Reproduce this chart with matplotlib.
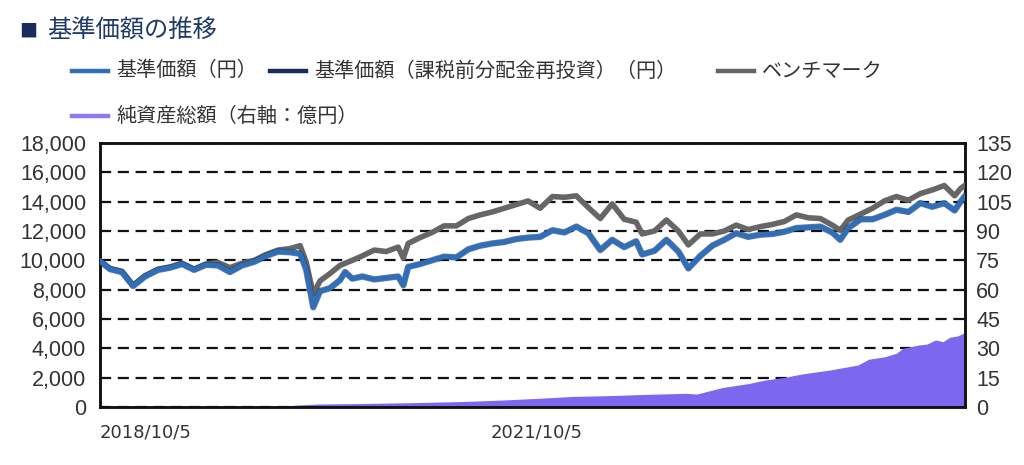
import numpy as np
import pandas as pd
import matplotlib
matplotlib.use('Agg')
import matplotlib.pyplot as plt
from matplotlib.lines import Line2D

plt.rcParams['font.family'] = ['Noto Sans CJK JP', 'DejaVu Sans']

# データ
dates = ['2018-10-05', '2018-10-30', '2018-11-29', '2018-12-27', '2019-01-26', '2019-02-28',
         '2019-03-30', '2019-04-29', '2019-05-29', '2019-06-28', '2019-07-28', '2019-08-27',
         '2019-09-26', '2019-10-27', '2019-11-26', '2019-12-26', '2020-01-25', '2020-02-19',
         '2020-03-05', '2020-03-23', '2020-04-09', '2020-05-04', '2020-05-29', '2020-06-11',
         '2020-06-29', '2020-07-24', '2020-08-23', '2020-09-22', '2020-10-22', '2020-11-04',
         '2020-11-16', '2020-12-16', '2021-01-15', '2021-02-14', '2021-03-17', '2021-04-16',
         '2021-05-16', '2021-06-15', '2021-07-15', '2021-08-14', '2021-09-13', '2021-10-13',
         '2021-11-13', '2021-12-13', '2022-01-12', '2022-02-11', '2022-03-13', '2022-04-12',
         '2022-05-12', '2022-06-11', '2022-06-26', '2022-07-27', '2022-08-26', '2022-09-25',
         '2022-10-20', '2022-11-19', '2022-12-19', '2023-01-18', '2023-02-17', '2023-03-19',
         '2023-04-19', '2023-05-19', '2023-06-18', '2023-07-18', '2023-08-17', '2023-09-16',
         '2023-10-16', '2023-11-05', '2023-11-25', '2023-12-26', '2024-01-25', '2024-02-24',
         '2024-03-25', '2024-04-24', '2024-05-24', '2024-06-23', '2024-07-23', '2024-08-18',
         '2024-09-02', '2024-09-12']

nav = [9950, 9400, 9200, 8250, 8900, 9350, 9500, 9750, 9350, 9700, 9650, 9200,
       9650, 9900, 10300, 10600, 10550, 10450, 9400, 6800, 7900, 8100, 8650, 9200,
       8750, 8900, 8700, 8800, 8900, 8300, 9550, 9750, 10000, 10250, 10200, 10750,
       11000, 11150, 11250, 11450, 11550, 11600, 12050, 11900, 12300, 11850, 10700, 11400,
       10900, 11300, 10400, 10650, 11400, 10600, 9450, 10300, 11000, 11400, 11850, 11600,
       11750, 11800, 11950, 12200, 12250, 12300, 11900, 11400, 12200, 12800, 12800, 13100,
       13450, 13300, 13900, 13650, 13900, 13400, 14000, 14350]

# 分配金なし -> 課税前分配金再投資も同じ値
nav_reinvest = list(nav)

bench = [9950, 9450, 9250, 8300, 8950, 9400, 9550, 9800, 9400, 9750, 9850, 9500,
         9800, 10000, 10400, 10700, 10800, 11000, 9900, 7700, 8600, 9100, 9650, 9800,
         10000, 10300, 10700, 10600, 10900, 10150, 11150, 11550, 11900, 12350, 12350, 12850,
         13100, 13300, 13550, 13800, 14050, 13550, 14350, 14300, 14400, 13600, 12850, 13850,
         12800, 12600, 11800, 12000, 12750, 12000, 11050, 11800, 11800, 12000, 12400, 12100,
         12300, 12450, 12650, 13100, 12900, 12850, 12400, 12050, 12750, 13150, 13550, 14050,
         14350, 14100, 14550, 14800, 15100, 14400, 14900, 15100]

# 純資産総額（億円）
aum_dates = ['2018-10-05', '2019-09-01', '2019-12-01', '2020-01-01', '2020-04-01', '2020-08-01',
             '2020-11-20', '2021-04-01', '2021-07-15', '2021-10-15', '2022-01-01', '2022-04-01',
             '2022-07-15', '2022-10-15', '2022-11-10', '2022-12-20', '2023-01-15', '2023-03-20',
             '2023-05-01', '2023-06-20', '2023-08-01', '2023-10-10', '2023-12-20', '2024-01-15',
             '2024-02-25', '2024-03-25', '2024-04-10', '2024-05-20', '2024-06-10', '2024-07-01',
             '2024-07-20', '2024-08-05', '2024-08-25', '2024-09-12']
aum = [0.0, 0.0, 0.1, 0.5, 1.5, 1.8,
       2.2, 2.8, 3.6, 4.5, 5.4, 5.8,
       6.5, 7.0, 6.6, 8.7, 10.0, 12.0,
       13.8, 15.2, 16.9, 18.9, 21.5, 24.4,
       25.7, 27.5, 30.0, 31.7, 32.2, 34.3,
       33.4, 35.6, 36.3, 38.0]

xtick_dates = ['2018-10-05', '2021-10-05']
xtick_labels = ['2018/10/5', '2021/10/5']

d = pd.to_datetime(dates)
ad = pd.to_datetime(aum_dates)

W, H = 1024, 465
fig = plt.figure(figsize=(W / 100, H / 100), dpi=100)
ax = fig.add_axes([100 / W, 1 - 407 / H, 865 / W, 264 / H])
ax2 = ax.twinx()

c_blue = '#2F6FB7'
c_navy = '#1A2A5E'
c_gray = '#666666'
c_purple = '#7B68EE'
c_text = '#333333'

# 右軸: 純資産総額 (塗り) + グリッド
ax2.fill_between(ad, 0, aum, color=c_purple, lw=0, zorder=2)
ax2.set_ylim(0, 135)
ax2.set_yticks(np.arange(0, 136, 15))
ax2.set_axisbelow(True)
ax2.yaxis.grid(True, color='#111111', lw=1.6, ls=(0, (5, 3)))

# 左軸: 基準価額・ベンチマーク
ax.set_zorder(ax2.get_zorder() + 1)
ax.patch.set_visible(False)
ax.plot(d, bench, color=c_gray, lw=4.0, zorder=3)
ax.plot(d, nav_reinvest, color=c_navy, lw=4.6, zorder=4, alpha=0.6)
ax.plot(d, nav, color=c_blue, lw=3.6, zorder=5)
ax.set_ylim(0, 18000)
ax.set_yticks(np.arange(0, 18001, 2000))
ax.set_yticklabels([f'{v:,}' for v in range(0, 18001, 2000)])
ax.set_xlim(pd.Timestamp('2018-10-05'), pd.Timestamp('2024-09-13'))
ax.set_xticks(pd.to_datetime(xtick_dates))
ax.set_xticklabels(xtick_labels, family='DejaVu Sans', fontsize=13, color=c_text)
ax.get_xticklabels()[0].set_ha('left')

for a in (ax, ax2):
    for s in a.spines.values():
        s.set_linewidth(1.8)
        s.set_color('#111111')
    a.tick_params(length=0)

ax.tick_params(axis='y', pad=10, labelsize=15.5, labelcolor=c_text)
ax.tick_params(axis='x', pad=12)
ax2.tick_params(axis='y', pad=8, labelsize=15.5, labelcolor=c_text)
for lab in ax.get_yticklabels() + ax2.get_yticklabels():
    lab.set_family('Liberation Sans')

# タイトル
fig.text(19 / W, 1 - 32 / H, '■', fontsize=13, color=c_navy, va='center', ha='left')
fig.text(47 / W, 1 - 31 / H, '基準価額の推移', fontsize=17.5, color='#1F3A68', va='center', ha='left')

# 凡例
legend_items = [
    (72, 71, c_blue, '基準価額（円）'),
    (270, 71, c_navy, '基準価額（課税前分配金再投資）（円）'),
    (718, 71, c_gray, 'ベンチマーク'),
    (72, 116, '#8C7BEA', '純資産総額（右軸：億円）'),
]
for x0, y0, col, label in legend_items:
    fig.add_artist(Line2D([x0 / W, (x0 + 36) / W], [1 - y0 / H, 1 - y0 / H],
                          color=col, lw=3.2, transform=fig.transFigure))
    fig.text((x0 + 44) / W, 1 - y0 / H, label, fontsize=14.5, color=c_text,
             va='center', ha='left')

fig.savefig('out.png', dpi=100)
